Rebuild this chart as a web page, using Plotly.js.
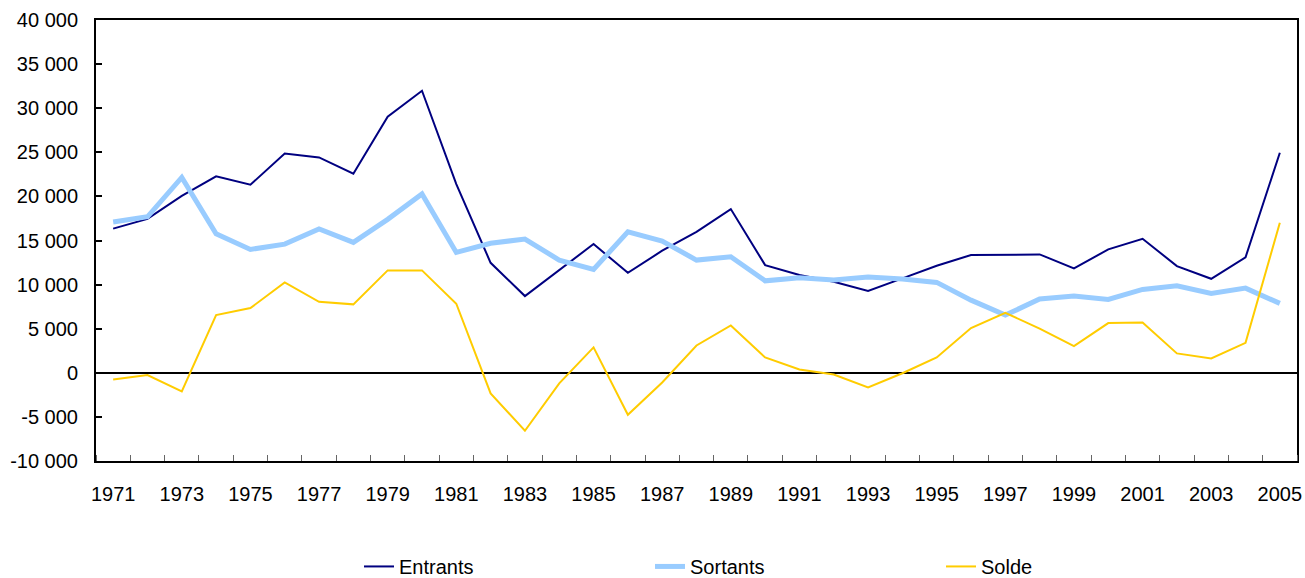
<!DOCTYPE html>
<html>
<head>
<meta charset="utf-8">
<script src="https://cdn.plot.ly/plotly-3.0.1.min.js"></script>
<style>html,body{margin:0;padding:0;background:#fff;}#chart{width:1305px;height:578px;}</style>
</head>
<body>
<div id="chart"></div>
<script>
const years = [1971,1972,1973,1974,1975,1976,1977,1978,1979,1980,1981,1982,1983,1984,1985,1986,1987,1988,1989,1990,1991,1992,1993,1994,1995,1996,1997,1998,1999,2000,2001,2002,2003,2004,2005];
const entrants = [16350,17450,20050,22270,21320,24850,24420,22570,29030,31980,21400,12470,8700,11650,14600,11340,13840,15990,18560,12210,11080,10320,9270,10700,12140,13350,13350,13420,11840,13990,15200,12100,10660,13090,24950];
const sortants = [17090,17690,22160,15770,13990,14590,16300,14790,17400,20270,13650,14690,15160,12780,11720,15990,14940,12780,13160,10430,10780,10510,10850,10630,10250,8240,6540,8360,8700,8320,9450,9870,9000,9600,7870];
const solde = [-750,-260,-2110,6540,7340,10250,8050,7760,11610,11610,7830,-2340,-6570,-1200,2880,-4760,-1100,3100,5370,1740,380,-190,-1650,-50,1740,5070,6800,5000,3030,5640,5710,2200,1630,3400,17010];
const xLabelYears = [1971,1973,1975,1977,1979,1981,1983,1985,1987,1989,1991,1993,1995,1997,1999,2001,2003,2005];
const yTickVals = [-10000,-5000,0,5000,10000,15000,20000,25000,30000,35000,40000];
const yTickText = ["-10 000","-5 000","0","5 000","10 000","15 000","20 000","25 000","30 000","35 000","40 000"];

const font = {family: "Liberation Sans, Arial, sans-serif", size: 20, color: "#000"};

const traces = [
  {x: years, y: entrants, name: "Entrants", type: "scatter", mode: "lines", line: {color: "#000080", width: 2}},
  {x: years, y: sortants, name: "Sortants", type: "scatter", mode: "lines", line: {color: "#99CCFF", width: 5}},
  {x: years, y: solde, name: "Solde", type: "scatter", mode: "lines", line: {color: "#FFCC00", width: 2}}
];

const layout = {
  width: 1305, height: 578,
  margin: {l: 96, r: 8, t: 20, b: 117},
  paper_bgcolor: "#fff", plot_bgcolor: "#fff",
  font: font,
  showlegend: true,
  legend: {orientation: "h", x: 0.219, xanchor: "left", yref: "container", y: 0.02, yanchor: "middle",
           entrywidth: 246, entrywidthmode: "pixels", font: font, traceorder: "normal",
           bgcolor: "rgba(0,0,0,0)"},
  xaxis: {
    type: "linear", range: [1970.5, 2005.5],
    tickvals: xLabelYears, ticktext: xLabelYears.map(String),
    ticks: "", showgrid: false, zeroline: false,
    showline: true, linecolor: "#000", linewidth: 2, mirror: true,
    ticklabelstandoff: 14,
    minor: {ticks: "inside", tick0: 1970.5, dtick: 1, ticklen: 6, tickcolor: "#666", tickwidth: 1, showgrid: false},
    tickfont: font
  },
  yaxis: {
    range: [-10000, 40000],
    tickvals: yTickVals, ticktext: yTickText,
    ticks: "inside", ticklen: 6, tickcolor: "#000", tickwidth: 2,
    showgrid: false, zeroline: true, zerolinecolor: "#000", zerolinewidth: 2,
    showline: true, linecolor: "#000", linewidth: 2, mirror: true,
    ticklabelstandoff: 12,
    tickfont: font
  }
};

Plotly.newPlot("chart", traces, layout, {displayModeBar: false, staticPlot: true});
</script>
</body>
</html>
